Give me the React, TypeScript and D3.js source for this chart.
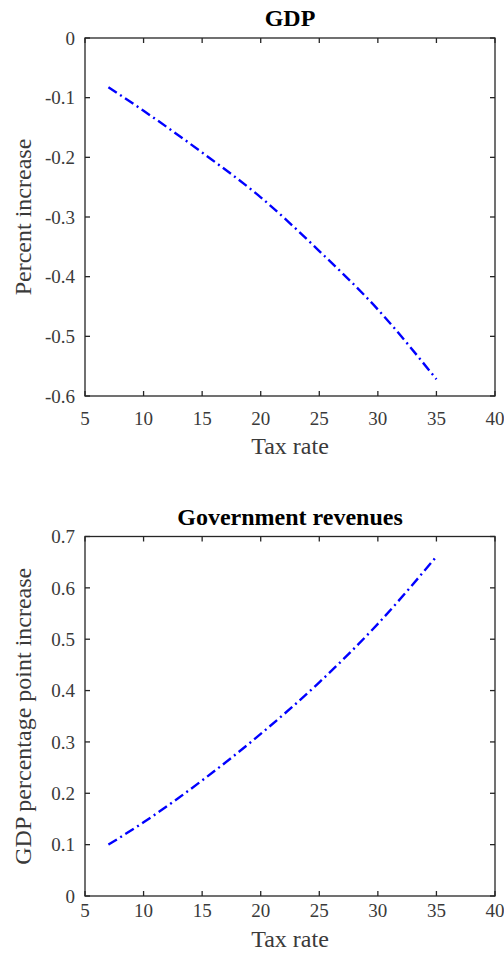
import * as d3 from 'd3';

// Tax rate (%) on the x axis, shared by both panels.
const taxRate = [7, 10, 15, 20, 25, 30, 35];
// GDP response, percent increase.
const gdpChange = [-0.0826, -0.122, -0.192, -0.267, -0.357, -0.455, -0.572];
// Government revenues, GDP percentage point increase.
const revenueChange = [0.1, 0.1435, 0.225, 0.3156, 0.416, 0.53, 0.661];

const xTicks = [5, 10, 15, 20, 25, 30, 35, 40];
const gdpTicks = [-0.6, -0.5, -0.4, -0.3, -0.2, -0.1, 0];
const revenueTicks = [0, 0.1, 0.2, 0.3, 0.4, 0.5, 0.6, 0.7];

const W = 504;
const H = 957;
const FONT = '"Liberation Serif", "DejaVu Serif", serif';
const INK = '#262626';
const LABEL = '#3a3a3a';

interface PanelProps {
  title: string;
  ylabel: string;
  values: number[];
  yTicks: number[];
  top: number;
  bottom: number;
  titleY: number;
  xTickY: number;
  xLabelY: number;
}

const fmt = (v: number) => String(+v.toFixed(1));

function Panel({ title, ylabel, values, yTicks, top, bottom, titleY, xTickY, xLabelY }: PanelProps) {
  const left = 85;
  const right = 495;
  const tickLen = 5;

  const x = d3.scaleLinear().domain([5, 40]).range([left, right]);
  const y = d3
    .scaleLinear()
    .domain([yTicks[0], yTicks[yTicks.length - 1]])
    .range([bottom, top]);

  const line = d3
    .line<number>()
    .x((_, i) => x(taxRate[i]))
    .y(v => y(v))
    .curve(d3.curveMonotoneX);

  const midY = (top + bottom) / 2;

  return (
    <g>
      <text x={(left + right) / 2} y={titleY} textAnchor="middle" fontSize={24} fontWeight="bold" fill="#000">
        {title}
      </text>

      {/* data line, dash-dot like MATLAB '-.' */}
      <path
        d={line(values) ?? ''}
        fill="none"
        stroke="#0000ff"
        strokeWidth={2.4}
        strokeDasharray="10,4,2,4"
      />

      {/* box */}
      <rect x={left} y={top} width={right - left} height={bottom - top} fill="none" stroke={INK} strokeWidth={1.3} />

      {/* x ticks, bottom and top, pointing inward */}
      {xTicks.map(t => (
        <g key={`xt-${t}`}>
          <line x1={x(t)} x2={x(t)} y1={bottom} y2={bottom - tickLen} stroke={INK} strokeWidth={1.3} />
          <line x1={x(t)} x2={x(t)} y1={top} y2={top + tickLen} stroke={INK} strokeWidth={1.3} />
          <text x={x(t)} y={xTickY} textAnchor="middle" fontSize={19} fill={LABEL}>
            {t}
          </text>
        </g>
      ))}

      {/* y ticks, left and right */}
      {yTicks.map(t => (
        <g key={`yt-${t}`}>
          <line x1={left} x2={left + tickLen} y1={y(t)} y2={y(t)} stroke={INK} strokeWidth={1.3} />
          <line x1={right} x2={right - tickLen} y1={y(t)} y2={y(t)} stroke={INK} strokeWidth={1.3} />
          <text x={75} y={y(t)} dy="0.35em" textAnchor="end" fontSize={19} fill={LABEL}>
            {fmt(t)}
          </text>
        </g>
      ))}

      <text x={(left + right) / 2} y={xLabelY} textAnchor="middle" fontSize={24} fill={LABEL}>
        Tax rate
      </text>
      <text
        x={31}
        y={midY}
        transform={`rotate(-90, 31, ${midY})`}
        textAnchor="middle"
        fontSize={24}
        fill={LABEL}
      >
        {ylabel}
      </text>
    </g>
  );
}

export default function App() {
  return (
    <svg
      width={W}
      height={H}
      viewBox={`0 0 ${W} ${H}`}
      style={{ position: 'absolute', left: 0, top: 0, background: '#fff' }}
      fontFamily={FONT}
    >
      <rect width={W} height={H} fill="#fff" />
      <Panel
        title="GDP"
        ylabel="Percent increase"
        values={gdpChange}
        yTicks={gdpTicks}
        top={38}
        bottom={396}
        titleY={26}
        xTickY={425}
        xLabelY={454}
      />
      <Panel
        title="Government revenues"
        ylabel="GDP percentage point increase"
        values={revenueChange}
        yTicks={revenueTicks}
        top={536.5}
        bottom={896}
        titleY={525}
        xTickY={917}
        xLabelY={947}
      />
    </svg>
  );
}
